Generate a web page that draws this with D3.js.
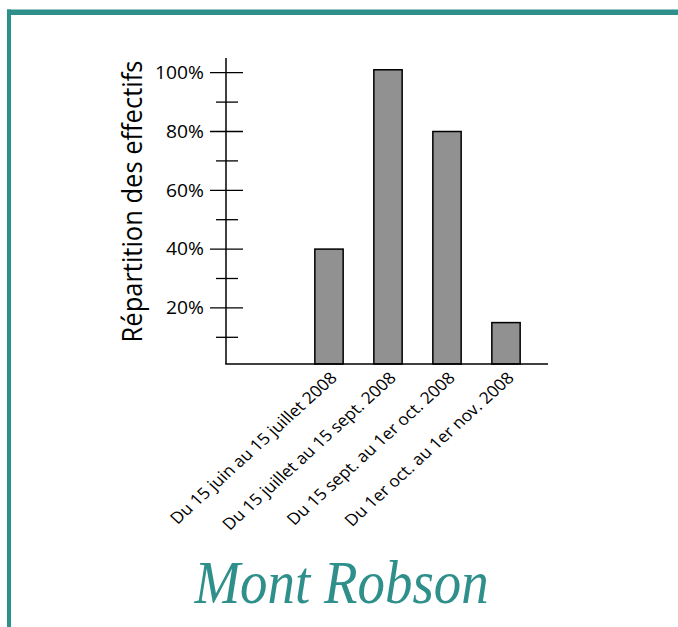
<!DOCTYPE html>
<html>
<head>
<meta charset="utf-8">
<script src="https://cdn.jsdelivr.net/npm/d3@7"></script>
<style>
  html, body { margin: 0; padding: 0; background: #ffffff; }
  svg { display: block; }
</style>
</head>
<body>
<svg id="chart" width="678" height="627"></svg>
<script>
// ---- data ----
const categories = [
  "Du 15 juin au 15 juillet 2008",
  "Du 15 juillet au 15 sept. 2008",
  "Du 15 sept. au 1er oct. 2008",
  "Du 1er oct. au 1er nov. 2008"
];
const values = [40, 101, 80, 15];
const majorTicks = [20, 40, 60, 80, 100];
const minorTicks = [10, 30, 50, 70, 90];
const tickLabels = ["20%", "40%", "60%", "80%", "100%"];
const yTitle = "Répartition des effectifs";
const chartTitle = "Mont Robson";

// ---- layout ----
const svg = d3.select("#chart");
const teal = "#2e8f8b";
const baseY = 364;
const axisX = 226;

const y = d3.scaleLinear().domain([0, 100]).range([366.7, 72.7]);
const x = d3.scaleBand().domain(categories).range([299.5, 535.5])
  .paddingInner(0.52).paddingOuter(0.26);

// frame
svg.append("rect").attr("x", 7).attr("y", 9.5).attr("width", 671).attr("height", 5.5).attr("fill", teal);
svg.append("rect").attr("x", 7).attr("y", 9.5).attr("width", 4).attr("height", 620).attr("fill", teal);

// bars
svg.append("g").selectAll("rect").data(values).join("rect")
  .attr("x", (d, i) => x(categories[i]))
  .attr("y", d => y(d))
  .attr("width", x.bandwidth())
  .attr("height", d => baseY - y(d))
  .attr("fill", "#919191")
  .attr("stroke", "#000")
  .attr("stroke-width", 1.5);

// axes lines
svg.append("line").attr("x1", axisX).attr("x2", axisX).attr("y1", y(105)).attr("y2", baseY)
  .attr("stroke", "#000").attr("stroke-width", 1.5);
svg.append("line").attr("x1", axisX - 0.75).attr("x2", 548).attr("y1", baseY).attr("y2", baseY)
  .attr("stroke", "#000").attr("stroke-width", 1.5);

// ticks
svg.append("g").selectAll("line").data(majorTicks).join("line")
  .attr("x1", axisX - 16).attr("x2", axisX + 17)
  .attr("y1", d => y(d)).attr("y2", d => y(d))
  .attr("stroke", "#000").attr("stroke-width", 1.3);
svg.append("g").selectAll("line").data(minorTicks).join("line")
  .attr("x1", axisX - 10).attr("x2", axisX + 12)
  .attr("y1", d => y(d)).attr("y2", d => y(d))
  .attr("stroke", "#000").attr("stroke-width", 1.3);

// tick labels
svg.append("g").selectAll("text").data(majorTicks).join("text")
  .attr("transform", d => `translate(204,${y(d) + 6.3}) scale(1.1,1)`)
  .attr("text-anchor", "end")
  .attr("font-family", "'Open Sans', sans-serif")
  .attr("font-size", 17.5)
  .attr("fill", "#000")
  .text((d, i) => tickLabels[i]);

// y title
svg.append("text")
  .attr("transform", "translate(141.5,201.5) scale(1.1,1) rotate(-90)")
  .attr("text-anchor", "middle")
  .attr("font-family", "'Open Sans', sans-serif")
  .attr("font-size", 25.5)
  .attr("fill", "#000")
  .text(yTitle);

// x labels
svg.append("g").selectAll("text").data(categories).join("text")
  .attr("transform", d => `translate(${x(d) + x.bandwidth() / 2 + 9},379) scale(1.1,1) rotate(-45)`)
  .attr("text-anchor", "end")
  .attr("font-family", "'Open Sans', sans-serif")
  .attr("font-size", 16)
  .attr("fill", "#000")
  .text(d => d);

// chart title
svg.append("text")
  .attr("transform", "translate(341.5,603) scale(0.9,1)")
  .attr("text-anchor", "middle")
  .attr("font-family", "'Liberation Serif', 'DejaVu Serif', serif")
  .attr("font-style", "italic")
  .attr("font-size", 61)
  .attr("fill", teal)
  .text(chartTitle);
</script>
</body>
</html>
